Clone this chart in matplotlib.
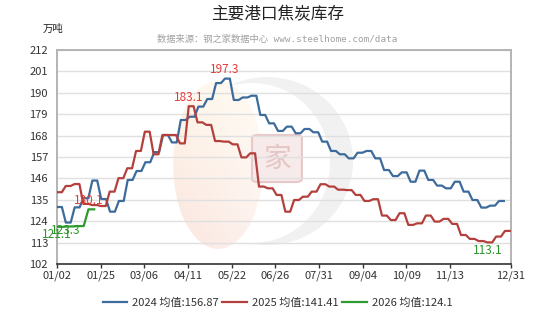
import numpy as np
import matplotlib.pyplot as plt
from matplotlib.patches import Ellipse, FancyBboxPatch

plt.rcParams['font.family'] = ['Noto Sans CJK SC', 'DejaVu Sans']

# x轴标签（类目轴）
x_labels = ['01/02', '01/25', '03/06', '04/11', '05/22', '06/26',
            '07/31', '09/04', '10/09', '11/13', '12/31']
x_ticks = [0, 10, 20, 30, 40, 50, 60, 70, 80, 90, 104]

# 周度库存（万吨）
v2024 = [131.3, 123.3, 131.1, 135.8, 144.9, 135.4, 128.9, 134.4, 145.2, 149.8,
         154.3, 159.5, 168.3, 164.5, 176.0, 177.7, 182.9, 186.8, 195.0, 197.3,
         186.3, 187.6, 188.5, 178.6, 174.3, 170.4, 172.6, 169.2, 171.4, 169.7,
         164.9, 160.1, 158.4, 156.3, 159.2, 160.1, 156.3, 150.3, 147.2, 149.1,
         144.3, 150.0, 145.2, 142.3, 140.9, 144.3, 139.2, 134.9, 131.0, 132.0,
         134.4]
v2025 = [138.9, 142.1, 143.1, 132.9, 132.3, 131.8, 139.2, 146.1, 151.2, 160.1,
         170.0, 158.4, 168.3, 168.3, 164.0, 183.1, 174.8, 173.5, 165.2, 164.9,
         163.5, 156.8, 158.9, 141.8, 140.9, 137.5, 128.9, 134.9, 136.6, 139.2,
         143.0, 141.8, 140.2, 140.0, 137.5, 134.4, 135.3, 126.9, 124.6, 128.1,
         122.1, 122.9, 126.9, 123.8, 125.2, 122.6, 116.9, 114.9, 113.8, 113.1,
         116.1, 119.0]
v2026 = [121.1, 121.3, 121.5, 130.1]

legend_labels = ['2024 均值:156.87', '2025 均值:141.41', '2026 均值:124.1']

series = [
    (v2024, 2.025, '#3d6b9c'),
    (v2025, 2.012, '#b3403d'),
    (v2026, 2.4, '#2f9a2f'),
]


def stepped(vals, step, frac=0.55):
    xs, ys = [], []
    for i, v in enumerate(vals):
        xs += [i * step, i * step + frac * step]
        ys += [v, v]
    return xs, ys


fig = plt.figure(figsize=(5.55, 3.15), dpi=100)
ax = fig.add_axes([57 / 555, 1 - 264 / 315, 454 / 555, 214 / 315])

# 水印（很淡）
ax.add_patch(Ellipse((0.4626, 0.481), 0.379, 0.785, transform=ax.transAxes,
                     facecolor='#f1f1f1', edgecolor='none', zorder=0.1))
ax.add_patch(Ellipse((0.4295, 0.472), 0.344, 0.748, transform=ax.transAxes,
                     facecolor='white', edgecolor='none', zorder=0.15))
leaf = Ellipse((0.355, 0.463), 0.198, 0.785, transform=ax.transAxes,
               facecolor='none', edgecolor='none', zorder=0.2)
ax.add_patch(leaf)
top_c = np.array([254, 247, 234]) / 255
bot_c = np.array([251, 229, 222]) / 255
rows = np.linspace(0, 1, 60)[:, None, None]
cols = np.linspace(0, 1, 30)[None, :, None]
grad = top_c * (1 - rows) + bot_c * rows
grad = grad * (1 - 0.5 * cols) + np.ones(3) * 0.5 * cols
grad = np.broadcast_to(grad, (60, 30, 3))
img = ax.imshow(grad, extent=[0.256, 0.454, 0.07, 0.856], transform=ax.transAxes,
                aspect='auto', zorder=0.2, interpolation='bilinear')
img.set_clip_path(leaf)
ax.add_patch(FancyBboxPatch((0.4295, 0.383), 0.110, 0.22, transform=ax.transAxes,
                            boxstyle='round,pad=0,rounding_size=0.015',
                            facecolor='#f7eaea', edgecolor='#e8c8c8', lw=1.5,
                            zorder=0.3))
ax.text(0.4845, 0.493, '家', transform=ax.transAxes, ha='center', va='center',
        fontsize=20, color='#e6c4c4', zorder=0.35)

handles = []
for vals, step, color in series:
    xs, ys = stepped(vals, step)
    ln, = ax.plot(xs, ys, color=color, lw=1.6, zorder=3)
    handles.append(ln)
    imax = int(np.argmax(vals))
    imin = int(np.argmin(vals))
    ax.annotate(f'{vals[imax]:.1f}', (imax * step, vals[imax]), xytext=(0, 6.5),
                textcoords='offset points', ha='center', va='center',
                fontsize=8.5, color='#e23c3a', zorder=4)
    ax.annotate(f'{vals[imin]:.1f}', (imin * step, vals[imin]), xytext=(0, -5.5),
                textcoords='offset points', ha='center', va='center',
                fontsize=8.5, color='#2a962a', zorder=4)

ax.set_xlim(0, 104)
ax.set_ylim(102, 212)
ax.set_yticks(np.arange(102, 213, 11))
ax.set_xticks(x_ticks)
ax.set_xticklabels(x_labels)
ax.set_axisbelow(True)
ax.yaxis.grid(True, color='#e0e0e0', lw=1)
ax.tick_params(axis='y', length=0, pad=6.5, labelsize=8, labelcolor='#333333')
ax.tick_params(axis='x', length=3, width=1, color='#333333', pad=2,
               labelsize=8, labelcolor='#333333')
for side in ['top', 'right', 'left']:
    ax.spines[side].set_color('#b4b4b4')
    ax.spines[side].set_linewidth(1.4)
ax.spines['bottom'].set_color('#333333')
ax.spines['bottom'].set_linewidth(1.2)

fig.text(0.5, 1 - 14.5 / 315, '主要港口焦炭库存', ha='center', va='center',
         fontsize=12, color='#222222')
fig.text(0.5, 1 - 39 / 315, '数据来源：钢之家数据中心 www.steelhome.com/data',
         ha='center', va='center', fontsize=6.7, color='#a0a0a0',
         family=['DejaVu Sans Mono', 'Noto Sans CJK SC'])
fig.text(53 / 555, 1 - 29 / 315, '万吨', ha='center', va='center',
         fontsize=7.5, color='#222222')

fig.legend(handles, legend_labels, loc='center', bbox_to_anchor=(0.5, 1 - 303 / 315),
           ncol=3, frameon=False, fontsize=8, handlelength=2.2, handletextpad=0.45,
           columnspacing=0.35, labelcolor='#333333')

fig.savefig('out.png', dpi=100)
